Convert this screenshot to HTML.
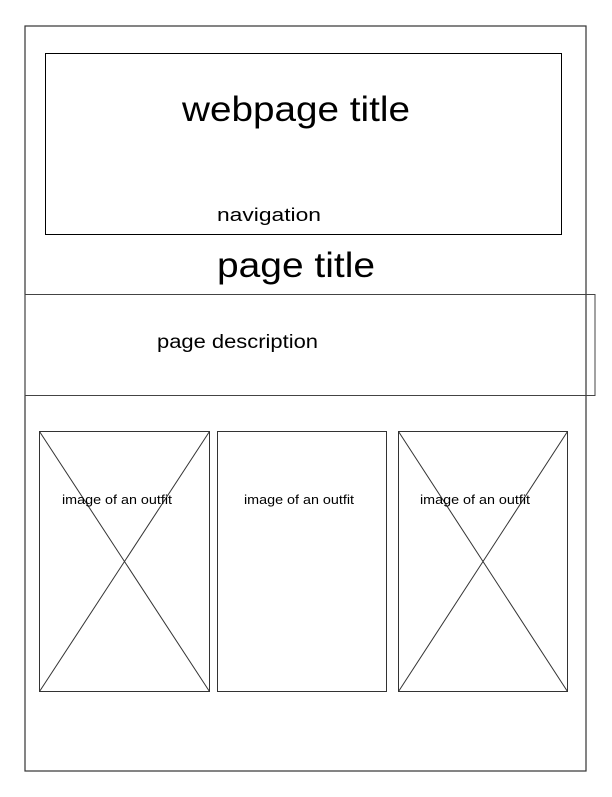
<!DOCTYPE html>
<html><head><style>body{margin:0;background:#fff}</style></head><body>
<svg width="612" height="792" viewBox="0 0 612 792" xmlns="http://www.w3.org/2000/svg" font-family="Liberation Sans, sans-serif" fill="#000">
<rect x="25" y="26" width="561" height="745" fill="none" stroke="#333" stroke-width="1.2"/>
<rect x="45.5" y="53.5" width="516" height="181" fill="none" stroke="#000" stroke-width="1"/>
<rect x="25" y="294.5" width="570" height="101" fill="none" stroke="#444" stroke-width="1"/>
<text x="182" y="121" font-size="35" textLength="228" lengthAdjust="spacingAndGlyphs">webpage title</text>
<text x="217" y="221" font-size="18" textLength="104" lengthAdjust="spacingAndGlyphs">navigation</text>
<text x="217" y="277" font-size="35" textLength="158" lengthAdjust="spacingAndGlyphs">page title</text>
<text x="157" y="348" font-size="19" textLength="161" lengthAdjust="spacingAndGlyphs">page description</text>
<g fill="none" stroke="#333" stroke-width="1">
<rect x="39.5" y="431.5" width="170" height="260"/>
<line x1="39.5" y1="431.5" x2="209.5" y2="691.5"/><line x1="209.5" y1="431.5" x2="39.5" y2="691.5"/>
<rect x="217.5" y="431.5" width="169" height="260"/>
<rect x="398.5" y="431.5" width="169" height="260"/>
<line x1="398.5" y1="431.5" x2="567.5" y2="691.5"/><line x1="567.5" y1="431.5" x2="398.5" y2="691.5"/>
</g>
<text x="62" y="504" font-size="13" textLength="110" lengthAdjust="spacingAndGlyphs">image of an outfit</text>
<text x="244" y="504" font-size="13" textLength="110" lengthAdjust="spacingAndGlyphs">image of an outfit</text>
<text x="420" y="504" font-size="13" textLength="110" lengthAdjust="spacingAndGlyphs">image of an outfit</text>
</svg>
</body></html>
